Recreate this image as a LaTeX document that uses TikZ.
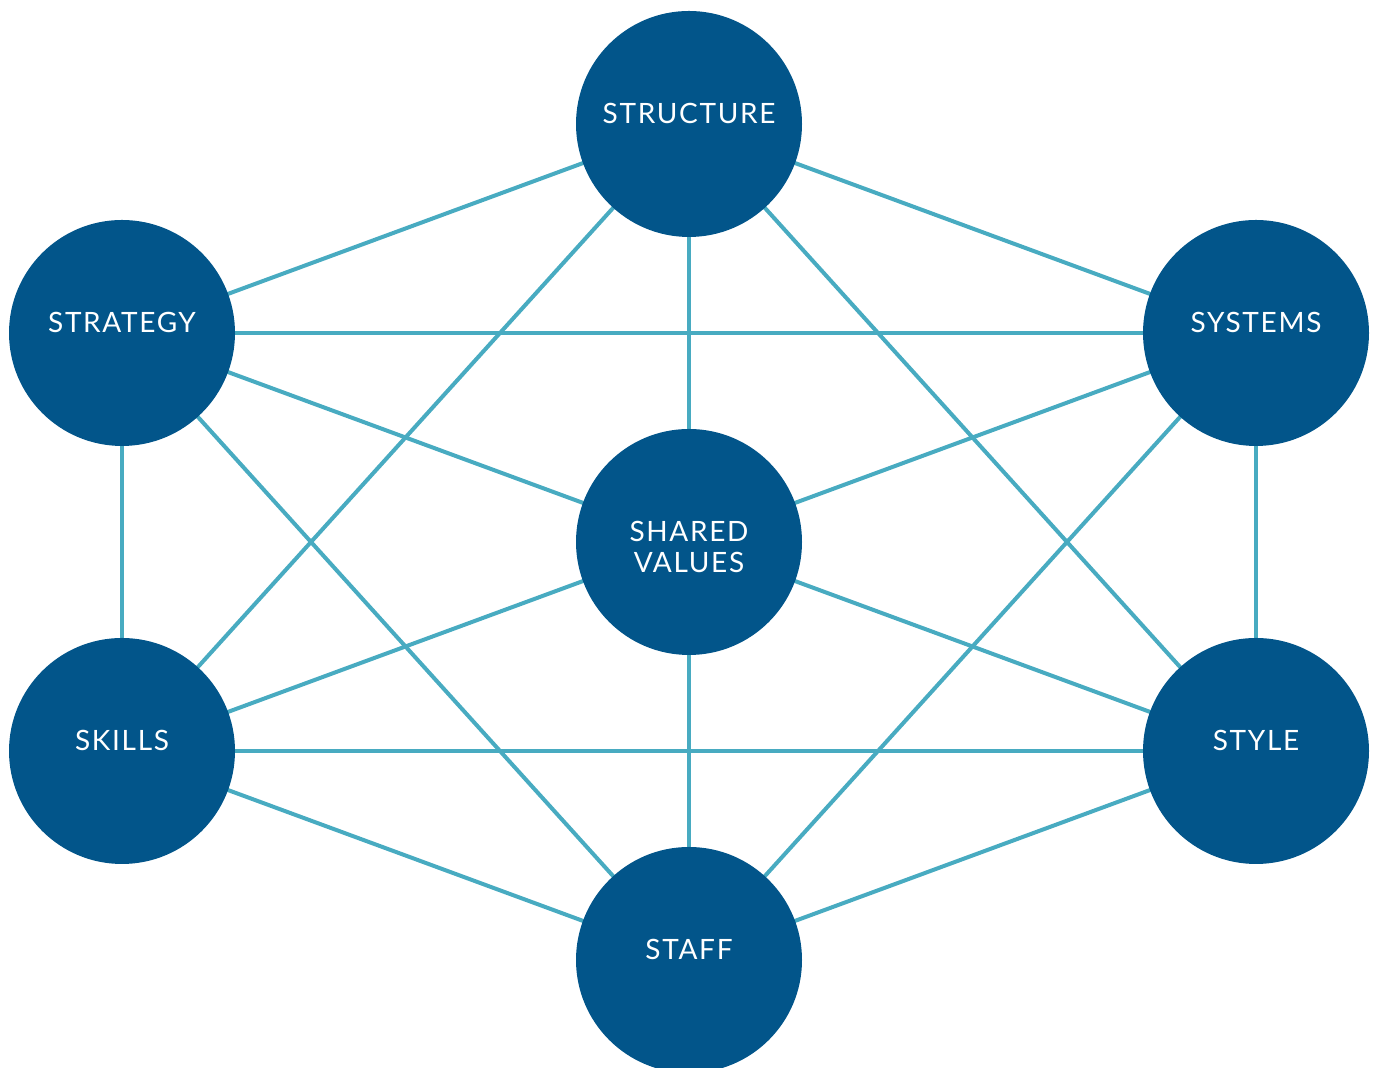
\documentclass[tikz,border=0pt]{standalone}
\usepackage{fontspec}
\setmainfont{Lato}[LetterSpace=6]
\usetikzlibrary{backgrounds}
\definecolor{circblue}{HTML}{02558A}
\definecolor{linkteal}{HTML}{48ABC1}
\tikzset{
  sball/.style={circle, fill=circblue, minimum size=113pt, inner sep=0pt,
    text=white, font=\fontsize{14}{15.5}\selectfont, align=center,
    text height=10pt, text depth=10pt},
  link/.style={draw=linkteal, line width=2pt},
}
\begin{document}
\begin{tikzpicture}[x=1pt,y=1pt]
\clip (0,0) rectangle (688,534);
\useasboundingbox (0,0) rectangle (688,534);
\node[sball] (structure) at (344.5,472) {STRUCTURE};
\node[sball] (strategy) at (61,367.5) {STRATEGY};
\node[sball] (systems) at (628,367.5) {SYSTEMS};
\node[sball, text height=30.5pt, text depth=0pt] (shared) at (344.5,263) {SHARED\\VALUES};
\node[sball] (skills) at (61,158.5) {SKILLS};
\node[sball] (style) at (628,158.5) {STYLE};
\node[sball] (staff) at (344.5,54) {STAFF};
\begin{scope}[on background layer]
\foreach \a/\b in {structure/strategy, structure/systems, structure/shared, structure/skills, structure/style,
  strategy/systems, strategy/shared, strategy/skills, strategy/staff,
  systems/shared, systems/style, systems/staff,
  shared/skills, shared/style, shared/staff,
  skills/style, skills/staff, style/staff}
  \draw[link] (\a.center) -- (\b.center);
\end{scope}
\end{tikzpicture}
\end{document}
